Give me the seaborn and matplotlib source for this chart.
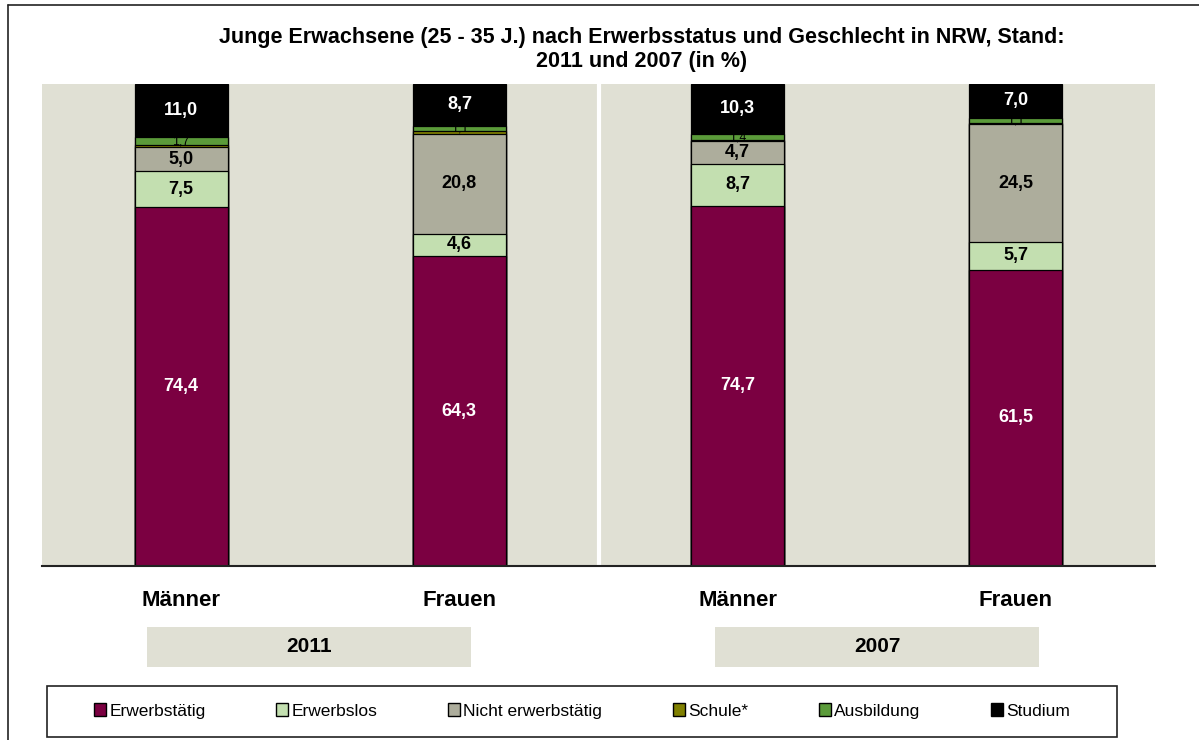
import matplotlib
matplotlib.use("Agg")
import matplotlib.pyplot as plt
import matplotlib.patches as mpatches
from matplotlib.lines import Line2D
import pandas as pd
import seaborn as sns

# Daten (Anteile in %)
gruppen = ["Männer 2011", "Frauen 2011", "Männer 2007", "Frauen 2007"]
tick_labels = ["Männer", "Frauen", "Männer", "Frauen"]
jahre = ["2011", "2007"]
erwerbstaetig = [74.4, 64.3, 74.7, 61.5]
erwerbslos = [7.5, 4.6, 8.7, 5.7]
nicht_erwerbstaetig = [5.0, 20.8, 4.7, 24.5]
schule = [0.4, 0.5, 0.2, 0.2]
ausbildung = [1.7, 1.1, 1.4, 1.1]
studium = [11.0, 8.7, 10.3, 7.0]

kategorien = ["Erwerbstätig", "Erwerbslos", "Nicht erwerbstätig", "Schule*", "Ausbildung", "Studium"]
werte = [erwerbstaetig, erwerbslos, nicht_erwerbstaetig, schule, ausbildung, studium]
farben = ["#7B0041", "#C3DFB0", "#ADAD9C", "#808000", "#5B9B3A", "#000000"]
textfarben = ["white", "black", "black", "black", "black", "white"]

W, H = 1199, 740

sns.set_theme(style="white")
plt.rcParams["font.family"] = ["Liberation Sans", "DejaVu Sans"]
plt.rcParams["text.color"] = "black"
plt.rcParams["xtick.color"] = "black"

fig = plt.figure(figsize=(W / 100, H / 100), dpi=100)
fig.patch.set_facecolor("white")


def fx(px):
    return px / W


def fy(py):
    return 1 - py / H


ax = fig.add_axes([fx(42), fy(566), fx(1155) - fx(42), fy(84) - fy(566)])
ax.set_facecolor("#E0E0D4")

# kumulierte Werte, von oben nach unten zeichnen
df = pd.DataFrame({k: v for k, v in zip(kategorien, werte)}, index=gruppen)
kum = df.cumsum(axis=1)
for i in range(len(kategorien) - 1, -1, -1):
    k = kategorien[i]
    d = pd.DataFrame({"gruppe": gruppen, "wert": kum[k].values})
    sns.barplot(data=d, x="gruppe", y="wert", order=gruppen, color=farben[i],
                saturation=1, width=0.335, edgecolor="black", linewidth=0.9,
                errorbar=None, ax=ax, zorder=2)

ax.axvline(1.5, color="white", lw=3, zorder=1)
ax.set_xlim(-0.5, 3.5)
ax.set_ylim(0, 100)
ax.set_xlabel("")
ax.set_ylabel("")
ax.set_yticks([])
for s in ["top", "left", "right"]:
    ax.spines[s].set_visible(False)
ax.spines["bottom"].set_color("#222222")
ax.spines["bottom"].set_linewidth(1.5)
ax.set_xticks(range(len(gruppen)))
ax.set_xticklabels(tick_labels, fontsize=16, fontweight="bold", color="black")
ax.tick_params(axis="x", length=0, pad=17)

# Beschriftungen der Segmente (Schule* ohne Beschriftung)
for i, k in enumerate(kategorien):
    if k == "Schule*":
        continue
    for j, g in enumerate(gruppen):
        v = df.loc[g, k]
        mitte = kum.loc[g, k] - v / 2
        label = f"{v:.1f}".replace(".", ",")
        if v >= 3:
            ax.text(j, mitte, label, ha="center", va="center", fontsize=13,
                    fontweight="bold", color=textfarben[i], zorder=5)
        else:
            ax.text(j, mitte, label, ha="center", va="center", fontsize=9,
                    color="black", zorder=5)

# Titel
fig.text(fx(642), fy(37), "Junge Erwachsene (25 - 35 J.) nach Erwerbsstatus und Geschlecht in NRW, Stand:",
         ha="center", va="center", fontsize=15.5, fontweight="bold")
fig.text(fx(642), fy(62), "2011 und 2007 (in %)", ha="center", va="center",
         fontsize=15.5, fontweight="bold")

# Jahres-Kästen
for (x0, x1), jahr in zip([(147, 471), (715, 1039)], jahre):
    fig.add_artist(mpatches.Rectangle((fx(x0), fy(667)), fx(x1) - fx(x0), fy(627) - fy(667),
                                      transform=fig.transFigure, facecolor="#E0E0D4",
                                      edgecolor="none"))
    fig.text(fx((x0 + x1) / 2), fy(646), jahr, ha="center", va="center",
             fontsize=15, fontweight="bold")

# Legende
fig.add_artist(mpatches.Rectangle((fx(47), fy(737)), fx(1117) - fx(47), fy(686) - fy(737),
                                  transform=fig.transFigure, facecolor="white",
                                  edgecolor="#222222", lw=1.2))
handles = [mpatches.Patch(facecolor=c, edgecolor="black", lw=1, label=k)
           for k, c in zip(kategorien, farben)]
fig.legend(handles=handles, loc="center", bbox_to_anchor=(fx(582), fy(711)),
           ncol=6, frameon=False, fontsize=12.5, handlelength=0.7, handleheight=0.7,
           handletextpad=0.2, columnspacing=4.05)

# Rahmen
fig.add_artist(Line2D([fx(8), 1], [fy(5), fy(5)], transform=fig.transFigure,
                      color="#222222", lw=1.2))
fig.add_artist(Line2D([fx(8), fx(8)], [fy(5), 0], transform=fig.transFigure,
                      color="#222222", lw=1.2))

fig.savefig("out.png", dpi=100)
